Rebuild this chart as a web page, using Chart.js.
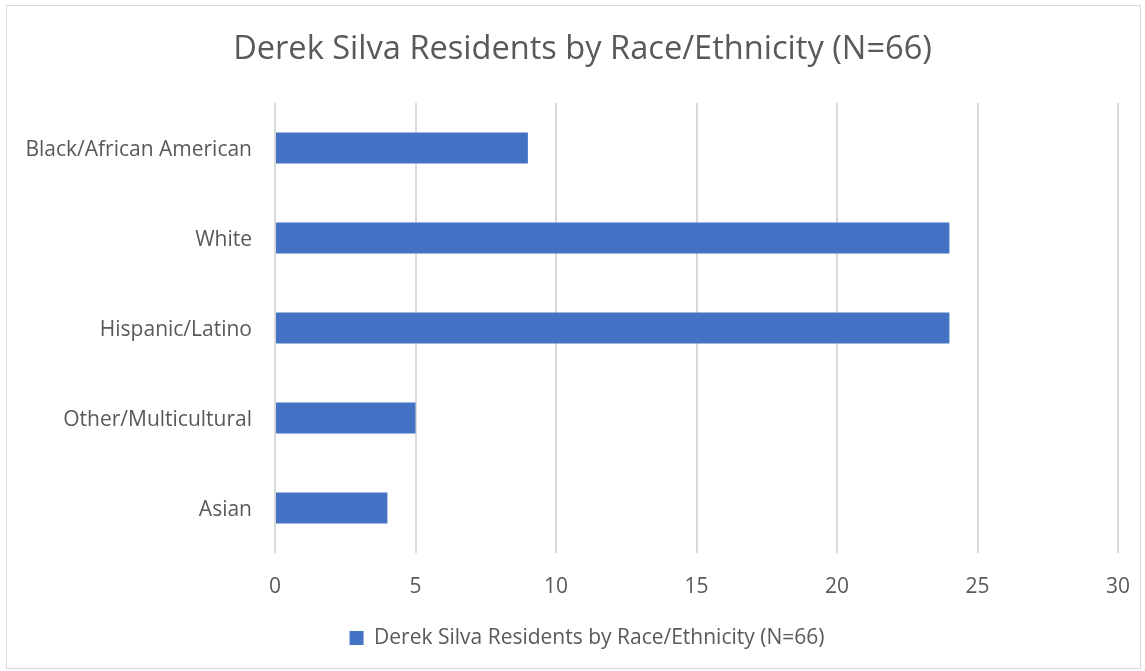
<!DOCTYPE html>
<html><head><meta charset="utf-8">
<script src="https://cdn.jsdelivr.net/npm/chart.js@4/dist/chart.umd.min.js"></script>
<style>
html,body{margin:0;padding:0;background:#fff;}
#wrap{position:absolute;left:0;top:0;width:1145px;height:671px;}
#frame{position:absolute;left:6px;top:5px;width:1133px;height:662px;border:1px solid #d9d9d9;pointer-events:none;}
</style></head>
<body>
<div id="wrap"><canvas id="c" width="1145" height="671"></canvas></div>
<div id="frame"></div>
<script>
const chartTitle = "Derek Silva Residents by Race/Ethnicity (N=66)";
const seriesName = "Derek Silva Residents by Race/Ethnicity (N=66)";
const categories = ["Black/African American", "White", "Hispanic/Latino", "Other/Multicultural", "Asian"];
const values = [9, 24, 24, 5, 4];
const xTicks = [0, 5, 10, 15, 20, 25, 30];

const txt = "#595959";
const fontFam = "'Open Sans', Lato, sans-serif";

// shift title and legend centre to match the reference
const shiftBoxes = {
  id: 'shiftBoxes',
  afterLayout(chart) {
    const t = chart.titleBlock, l = chart.legend;
    const tc = 582.5, lc = 587;
    if (t) { const d = tc - (t.left + t.right) / 2; t.left += d; t.right += d; }
    if (l) { const d = lc - (l.left + l.right) / 2; l.left += d; l.right += d; }
  }
};

new Chart(document.getElementById('c'), {
  type: 'bar',
  data: {
    labels: categories,
    datasets: [{
      label: seriesName,
      data: values,
      backgroundColor: '#4472C4',
      borderWidth: 0,
      categoryPercentage: 1,
      barPercentage: 0.345
    }]
  },
  plugins: [shiftBoxes],
  options: {
    indexAxis: 'y',
    responsive: false,
    animation: false,
    layout: { padding: { left: 0, right: 27, top: 0, bottom: 12.5 } },
    plugins: {
      title: {
        display: true,
        text: chartTitle,
        color: txt,
        font: { family: fontFam, size: 32.6, weight: 'normal', lineHeight: 1.2 },
        padding: { top: 30, bottom: 33.9 }
      },
      legend: {
        position: 'bottom',
        labels: {
          color: txt,
          font: { family: fontFam, size: 21 },
          boxWidth: 14, boxHeight: 14, padding: 10
        }
      },
      tooltip: { enabled: false }
    },
    scales: {
      x: {
        min: 0, max: 30,
        afterBuildTicks: s => { s.ticks = xTicks.map(v => ({ value: v })); },
        afterFit: s => { s.height = 64.5; s.paddingRight = 0; s.paddingLeft = 0; },
        grid: { color: '#d9d9d9', lineWidth: 2, drawTicks: false },
        border: { display: false },
        ticks: { color: txt, font: { family: fontFam, size: 21 }, padding: 21 }
      },
      y: {
        afterFit: s => { s.width = 275; },
        grid: { display: false, drawTicks: false },
        border: { display: false },
        ticks: { color: txt, font: { family: fontFam, size: 21 }, padding: 23, labelOffset: 2 }
      }
    }
  }
});
</script>
</body></html>
